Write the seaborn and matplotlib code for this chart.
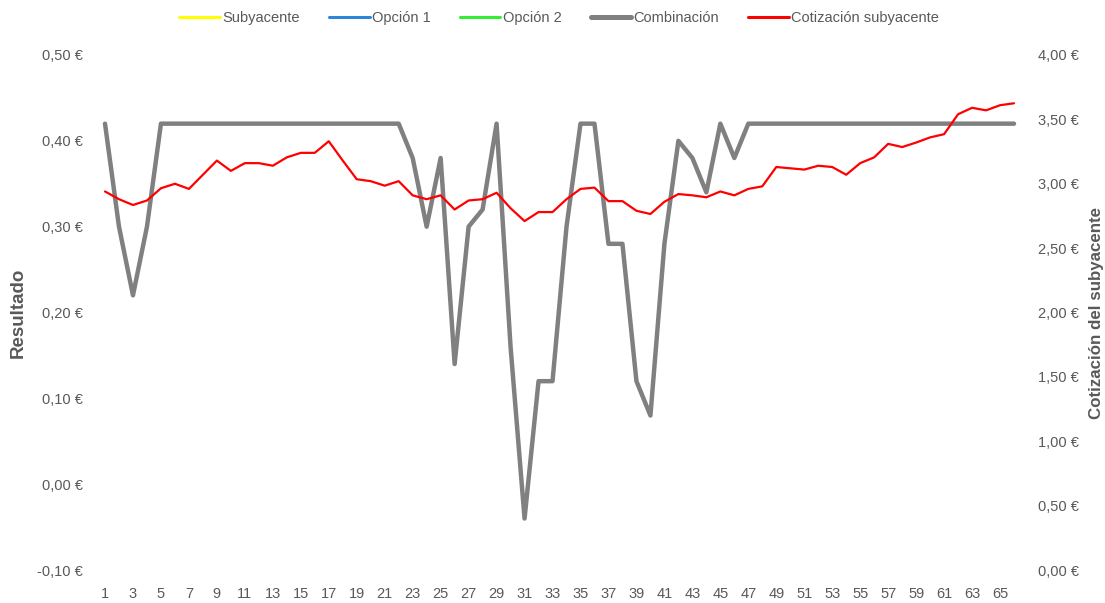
import numpy as np
import pandas as pd
import seaborn as sns
import matplotlib.pyplot as plt
from matplotlib.lines import Line2D
from matplotlib.ticker import FuncFormatter

# periods 1..66
periodos = list(range(1, 67))

combinacion = [0.42, 0.30, 0.22, 0.30, 0.42, 0.42, 0.42, 0.42, 0.42, 0.42,
               0.42, 0.42, 0.42, 0.42, 0.42, 0.42, 0.42, 0.42, 0.42, 0.42,
               0.42, 0.42, 0.38, 0.30, 0.38, 0.14, 0.30, 0.32, 0.42, 0.16,
               -0.04, 0.12, 0.12, 0.30, 0.42, 0.42, 0.28, 0.28, 0.12, 0.08,
               0.28, 0.40, 0.38, 0.34, 0.42, 0.38, 0.42, 0.42, 0.42, 0.42,
               0.42, 0.42, 0.42, 0.42, 0.42, 0.42, 0.42, 0.42, 0.42, 0.42,
               0.42, 0.42, 0.42, 0.42, 0.42, 0.42]

cotizacion = [2.94, 2.88, 2.835, 2.87, 2.965, 3.00, 2.96, 3.07, 3.18, 3.10,
              3.16, 3.16, 3.14, 3.205, 3.24, 3.24, 3.33, 3.18, 3.035, 3.02,
              2.985, 3.02, 2.91, 2.88, 2.91, 2.80, 2.87, 2.88, 2.93, 2.81,
              2.71, 2.78, 2.78, 2.88, 2.96, 2.97, 2.865, 2.865, 2.79, 2.765,
              2.86, 2.92, 2.91, 2.895, 2.94, 2.91, 2.96, 2.98, 3.13, 3.12,
              3.11, 3.14, 3.13, 3.07, 3.16, 3.205, 3.31, 3.285, 3.32, 3.36,
              3.385, 3.54, 3.59, 3.57, 3.61, 3.625]

series_nombres = ["Subyacente", "Opción 1", "Opción 2", "Combinación", "Cotización subyacente"]
series_colores = ["#FFFF00", "#2E86D6", "#33EE33", "#808080", "#FF0000"]

sns.set_theme(style="white")
plt.rcParams["font.family"] = ["Liberation Sans", "DejaVu Sans"]

txt = "#595959"
df = pd.DataFrame({"periodo": periodos, "combinacion": combinacion, "cotizacion": cotizacion})

fig = plt.figure(figsize=(11.05, 6.03), dpi=100)
ax = fig.add_axes([0.0887, 0.0547, 0.8353, 0.8541])
ax2 = ax.twinx()

sns.lineplot(data=df, x="periodo", y="combinacion", ax=ax, color=series_colores[3], linewidth=3.2)
sns.lineplot(data=df, x="periodo", y="cotizacion", ax=ax2, color=series_colores[4], linewidth=1.6)

ax.set_xlim(0.5, 66.5)
ax.set_ylim(-0.10, 0.50)
ax2.set_ylim(0, 4)
ax.set_yticks(np.arange(-0.1, 0.51, 0.1))
ax2.set_yticks(np.arange(0, 4.01, 0.5))
ax.set_xticks(periodos[::2])

eur = FuncFormatter(lambda v, p: f"{v:.2f} €".replace(".", ",").replace("-0,00", "0,00"))
ax.yaxis.set_major_formatter(eur)
ax2.yaxis.set_major_formatter(eur)

for a in (ax, ax2):
    for s in a.spines.values():
        s.set_visible(False)
    a.tick_params(axis="both", length=0, labelsize=10.5, labelcolor=txt)
    a.grid(False)
ax.tick_params(axis="y", pad=11)
ax2.tick_params(axis="y", pad=12)
ax.tick_params(axis="x", pad=12)

ax.set_xlabel("")
ax.set_ylabel("Resultado", fontsize=13.5, fontweight="bold", color=txt)
ax2.set_ylabel("Cotización del subyacente", fontsize=12.2, fontweight="bold", color=txt, rotation=90)
ax.yaxis.set_label_coords(-0.077, 0.5)
ax2.yaxis.set_label_coords(1.074, 0.5)

handles = [Line2D([], [], color=c, linewidth=3.6 if n == "Combinación" else 2.2)
           for n, c in zip(series_nombres, series_colores)]
fig.legend(handles, series_nombres, loc="center", bbox_to_anchor=(0.506, 0.97), ncol=5,
           frameon=False, fontsize=10.5, labelcolor=txt, handlelength=2.8,
           handletextpad=0.15, columnspacing=2.0)

fig.savefig("out.png", dpi=100)
